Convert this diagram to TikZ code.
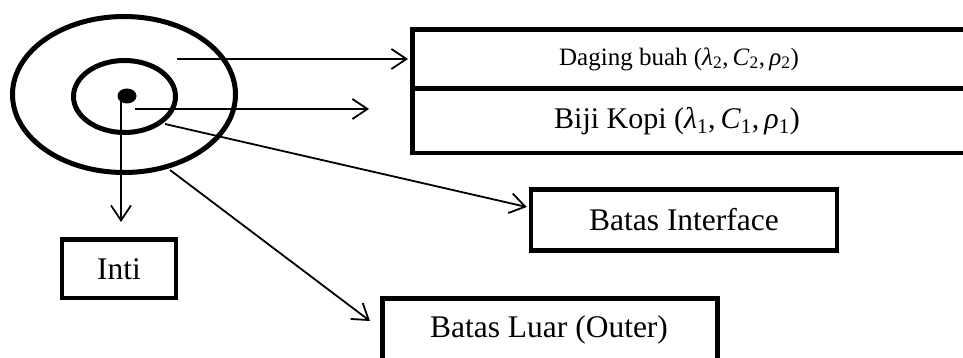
\documentclass[tikz,border=0pt]{standalone}
\usepackage{fontspec}
\setmainfont{Liberation Serif}
\usetikzlibrary{arrows.meta,shapes.geometric,calc}
\newcommand{\mvar}[2]{\textit{#1}\textsubscript{#2}}
\tikzset{
  boxed/.style={draw=black, line width=4.5pt, rectangle, inner sep=0pt, align=center},
  ring/.style={draw=black, line width=5pt, ellipse, inner sep=0pt},
  arr/.style={draw=black, line width=1.8pt, -{Straight Barb[length=15pt,width=20pt,line width=1.8pt]}},
  bigtxt/.style={font=\fontsize{31.5}{37}\selectfont},
  midtxt/.style={font=\fontsize{30}{36}\selectfont},
  smalltxt/.style={font=\fontsize{25}{30}\selectfont}
}
\begin{document}
\begin{tikzpicture}[x=1pt,y=-1pt]
\useasboundingbox (0,0) rectangle (963,358);
\fill[white] (0,0) rectangle (963,358);
% rings
\node[ring, minimum width=223pt, minimum height=156pt] (outer) at (124,94.5) {};
\node[ring, minimum width=102pt, minimum height=72pt] (inner) at (124.5,96.5) {};
\node[fill=black, ellipse, minimum width=19pt, minimum height=15pt, inner sep=0pt] (dot) at (127,96) {};
% boxes
\node[boxed, minimum width=577.5pt, minimum height=59pt] (daging) at (701,59) {};
\node[smalltxt] (dagingtxt) at (679,59) {Daging buah (\mvar{λ}{2},\,\mvar{C}{2},\,\mvar{ρ}{2})};
\node[boxed, minimum width=577.5pt, minimum height=64.5pt] (biji) at (701,120.75) {};
\node[midtxt] (bijitxt) at (677,120.75) {Biji Kopi (\mvar{λ}{1},\,\mvar{C}{1},\,\mvar{ρ}{1})};
\node[boxed, bigtxt, minimum width=306pt, minimum height=60.5pt] (interface) at (684,220) {Batas Interface};
\node[boxed, bigtxt, minimum width=114pt, minimum height=58.5pt] (inti) at (119,268.75) {Inti};
\node[boxed, minimum width=335pt, minimum height=63pt] (luar) at (550,330) {};
\node[bigtxt] (luartxt) at (549,330) {Batas Luar (Outer)};
% connector ends
\coordinate (sD) at (177,59);
\coordinate (sB) at (135,109);
\coordinate (eB) at (369,109);
\coordinate (sI) at (165,124);
\coordinate (sL) at (170,170);
\coordinate (eL) at (370,321);
\coordinate (sN) at (121,100);
\coordinate (eN) at (121,222);
\coordinate (eI) at ($(interface.north west)!0.3!(interface.south west)+(-2,0)$);
% connectors
\draw[arr] (sD) -- ($(daging.west |- sD)+(-2,0)$);
\draw[arr] (sB) -- (eB);
\draw[arr] (sI) -- (eI);
\draw[arr] (sL) -- (eL);
\draw[arr] (sN) -- (eN);
\end{tikzpicture}
\end{document}
